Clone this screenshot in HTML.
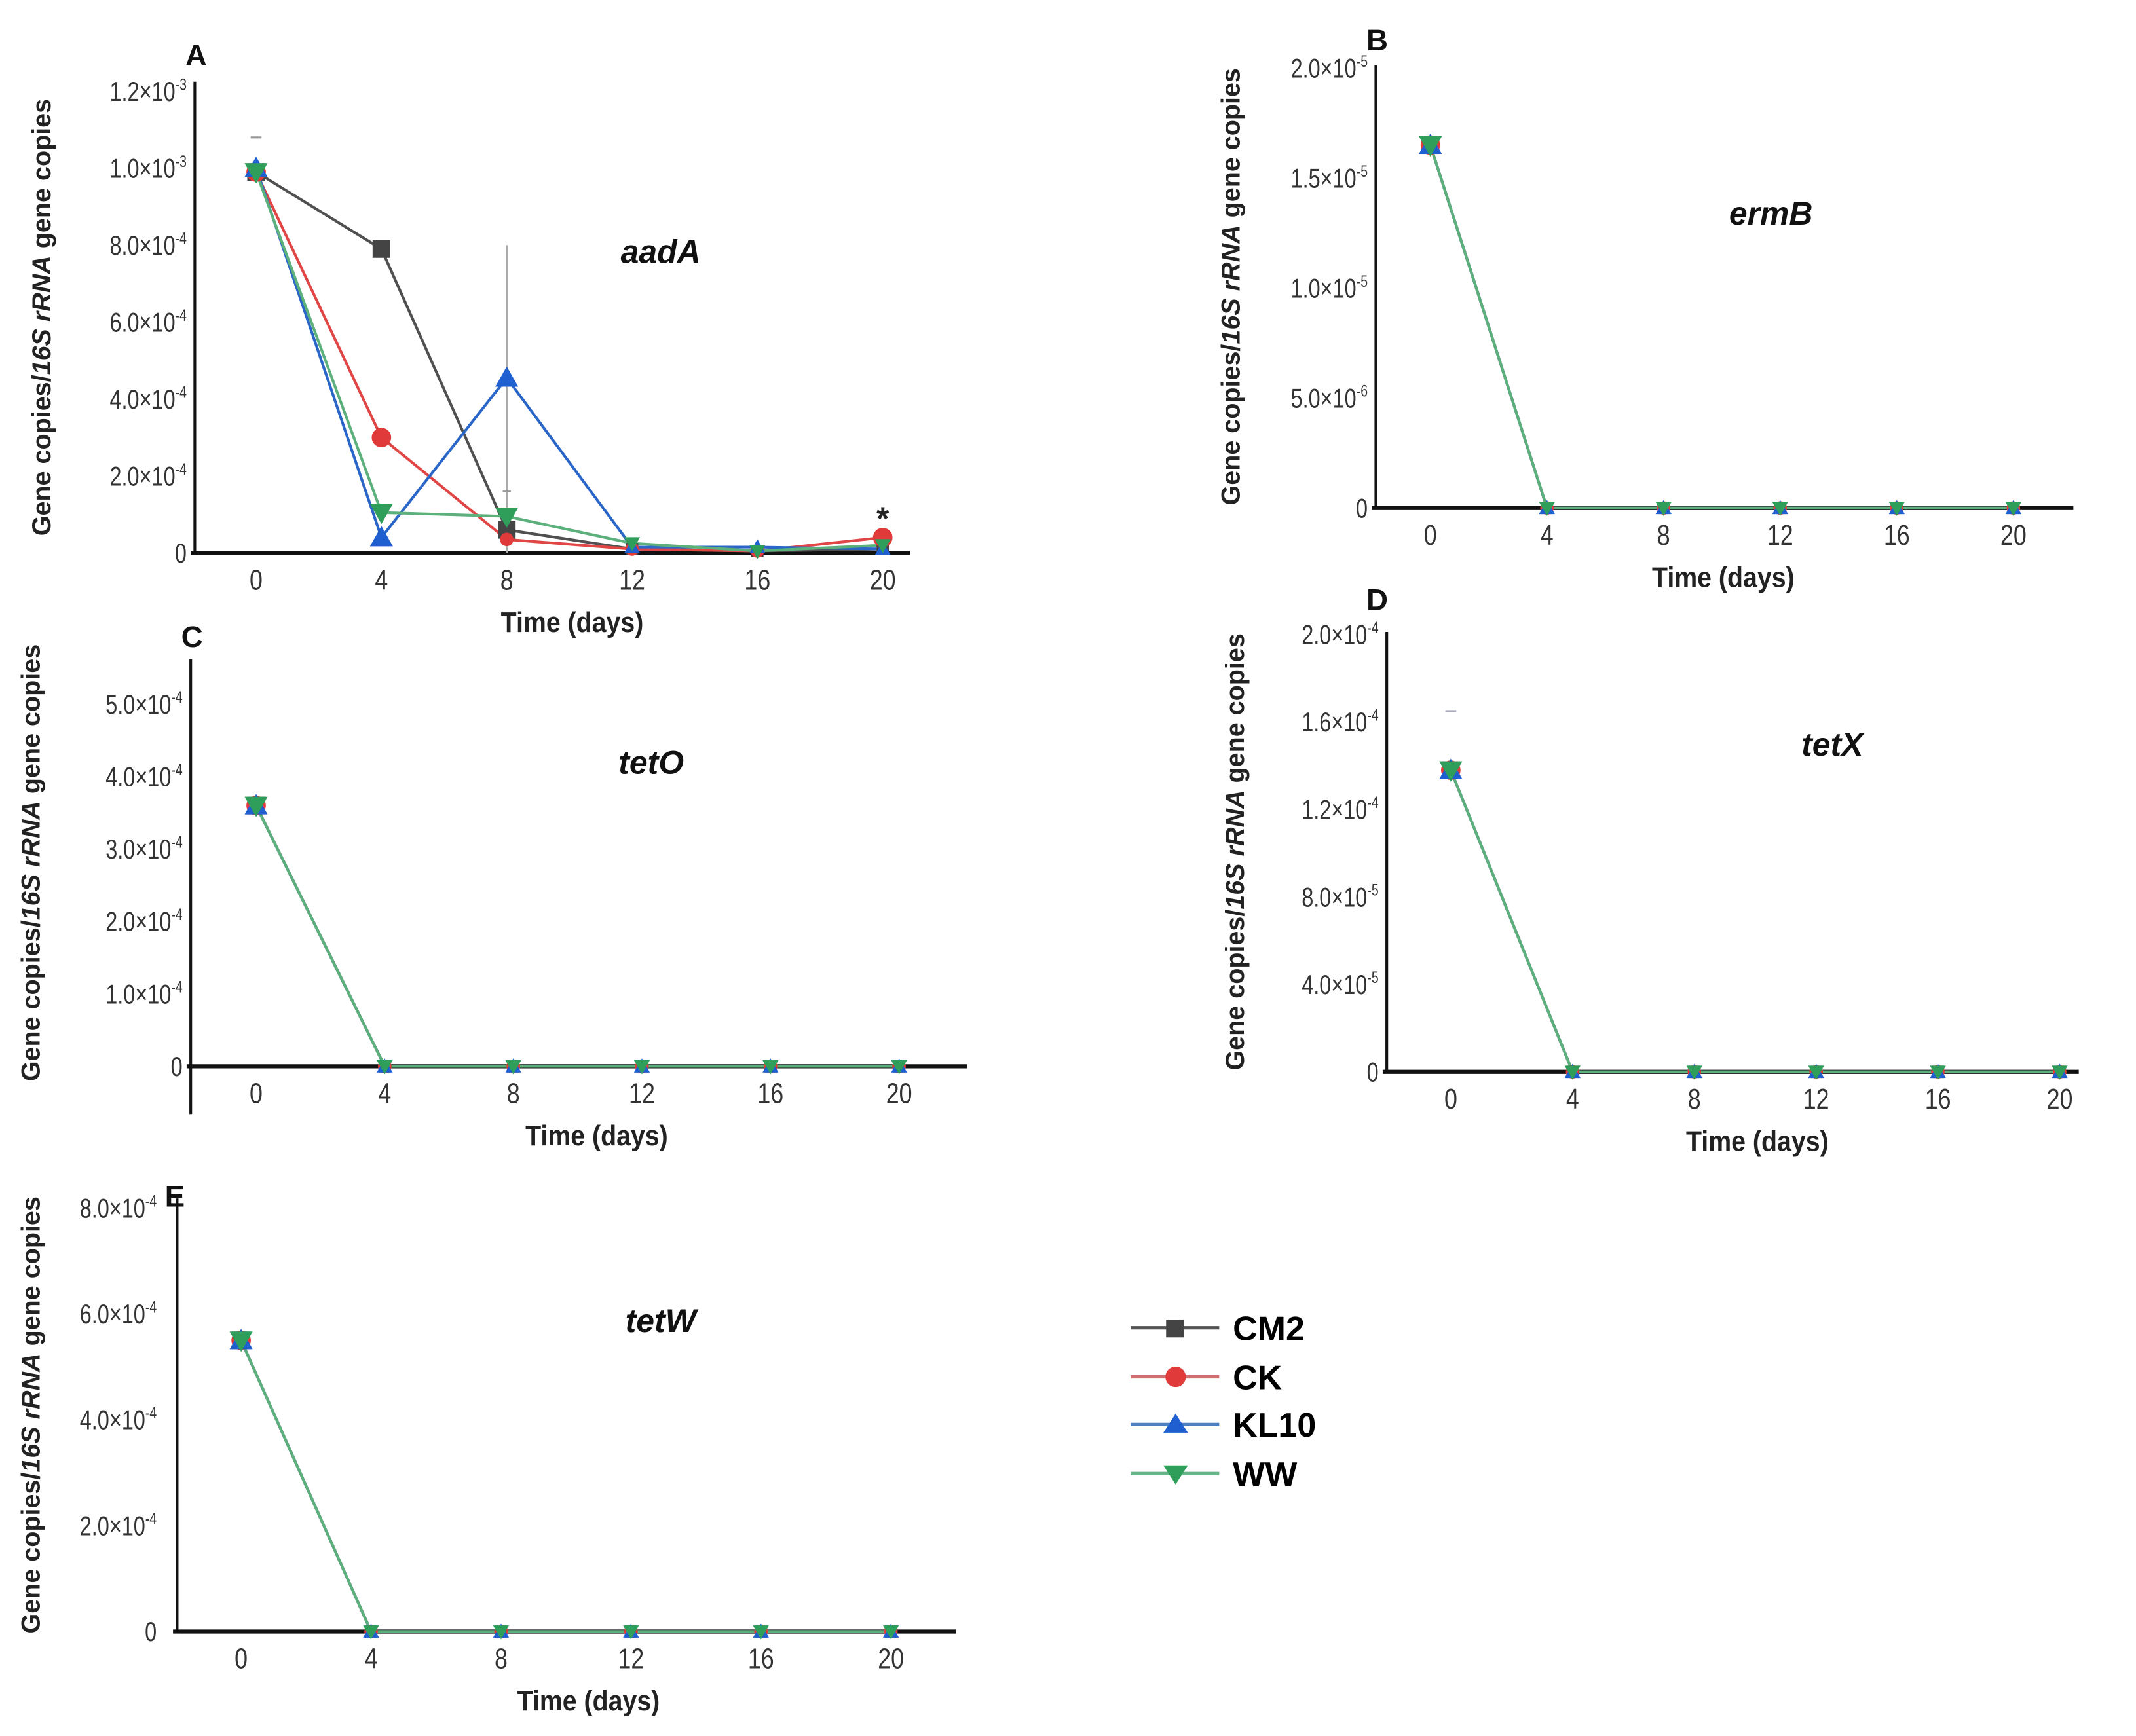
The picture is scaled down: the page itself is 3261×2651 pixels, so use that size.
<!DOCTYPE html>
<html><head><meta charset="utf-8"><style>
html,body{margin:0;padding:0;background:#fff;}
svg{display:block;}
text{font-family:"Liberation Sans",sans-serif;}
</style></head><body>
<svg id="fig" width="3261" height="2651" viewBox="0 0 1568 1274.7" xmlns="http://www.w3.org/2000/svg">
<rect width="1568" height="1274.7" fill="#fff"/>
<g id="legend">
  <g>
    <line x1="830" y1="975" x2="895" y2="975" stroke="#555" stroke-width="2.5"/>
    <rect x="856" y="969" width="13" height="13" fill="#444"/>
    <text x="905" y="984" font-weight="bold" font-size="25">CM2</text>
  </g>
  <g>
    <line x1="830" y1="1011" x2="895" y2="1011" stroke="#d07070" stroke-width="2.5"/>
    <circle cx="863" cy="1011" r="7.5" fill="#e03a3a"/>
    <text x="905" y="1020" font-weight="bold" font-size="25">CK</text>
  </g>
  <g>
    <line x1="830" y1="1046" x2="895" y2="1046" stroke="#4a7fc4" stroke-width="2.5"/>
    <polygon points="863,1038 872,1052 854,1052" fill="#1f5fd0"/>
    <text x="905" y="1055" font-weight="bold" font-size="25">KL10</text>
  </g>
  <g>
    <line x1="830" y1="1082" x2="895" y2="1082" stroke="#6ab48a" stroke-width="2.5"/>
    <polygon points="854,1076 872,1076 863,1090" fill="#2e9e5a"/>
    <text x="905" y="1091" font-weight="bold" font-size="25">WW</text>
  </g>
</g>
</svg>
<script>
const days = [0, 4, 8, 12, 16, 20];
const seriesNames = ['CM2', 'CK', 'KL10', 'WW'];
// Panel A (aadA)
const aadA_CM2 = [0.99e-3, 7.9e-4, 0.6e-4, 0.1e-4, 0.05e-4, 0.1e-4];
const aadA_CK = [0.99e-3, 3.0e-4, 0.35e-4, 0.1e-4, 0.05e-4, 0.4e-4];
const aadA_KL10 = [1.0e-3, 0.4e-4, 4.55e-4, 0.15e-4, 0.15e-4, 0.1e-4];
const aadA_WW = [0.99e-3, 1.05e-4, 0.95e-4, 0.25e-4, 0.05e-4, 0.2e-4];
const aadA_ticks = [0, 2e-4, 4e-4, 6e-4, 8e-4, 1e-3, 1.2e-3];
const aadA_tickLabels = [['0',''],['2.0×10','-4'],['4.0×10','-4'],['6.0×10','-4'],['8.0×10','-4'],['1.0×10','-3'],['1.2×10','-3']];
// Panel B (ermB)
const ermB_values = [1.65e-5, 0, 0, 0, 0, 0];
const ermB_ticks = [0, 5e-6, 1e-5, 1.5e-5, 2e-5];
const ermB_tickLabels = [['0',''],['5.0×10','-6'],['1.0×10','-5'],['1.5×10','-5'],['2.0×10','-5']];
// Panel C (tetO)
const tetO_values = [3.6e-4, 0, 0, 0, 0, 0];
const tetO_ticks = [0, 1e-4, 2e-4, 3e-4, 4e-4, 5e-4];
const tetO_tickLabels = [['0',''],['1.0×10','-4'],['2.0×10','-4'],['3.0×10','-4'],['4.0×10','-4'],['5.0×10','-4']];
// Panel D (tetX)
const tetX_values = [1.38e-4, 0, 0, 0, 0, 0];
const tetX_ticks = [0, 4e-5, 8e-5, 1.2e-4, 1.6e-4, 2e-4];
const tetX_tickLabels = [['0',''],['4.0×10','-5'],['8.0×10','-5'],['1.2×10','-4'],['1.6×10','-4'],['2.0×10','-4']];
// Panel E (tetW)
const tetW_values = [5.5e-4, 0, 0, 0, 0, 0];
const tetW_ticks = [0, 2e-4, 4e-4, 6e-4, 8e-4];
const tetW_tickLabels = [['0',''],['2.0×10','-4'],['4.0×10','-4'],['6.0×10','-4'],['8.0×10','-4']];

const NS = 'http://www.w3.org/2000/svg';
const svg = document.getElementById('fig');
const colors = {CM2:'#505050', CK:'#e04646', KL10:'#2a66c8', WW:'#5cb07c'};
const mcolors = {CM2:'#444', CK:'#e03a3a', KL10:'#1f5fd0', WW:'#2e9e5a'};
function mk(tag, attrs, parent) {
  const e = document.createElementNS(NS, tag);
  for (const k in attrs) e.setAttribute(k, attrs[k]);
  (parent || svg).appendChild(e);
  return e;
}
function marker(g, name, x, y, s) {
  let m;
  if (name === 'CM2') m = mk('rect', {x:x-s, y:y-s, width:2*s, height:2*s, fill:mcolors[name]}, g);
  else if (name === 'CK') m = mk('circle', {cx:x, cy:y, r:s*1.1, fill:mcolors[name]}, g);
  else if (name === 'KL10') m = mk('polygon', {points:`${x},${y-s*1.3} ${x+s*1.3},${y+s} ${x-s*1.3},${y+s}`, fill:mcolors[name]}, g);
  else m = mk('polygon', {points:`${x-s*1.3},${y-s} ${x+s*1.3},${y-s} ${x},${y+s*1.3}`, fill:mcolors[name]}, g);
  
  
}
function panel(p) {
  const g = mk('g', {});
  
  
  const tmax = p.ticks[p.ticks.length - 1];
  const ys = v => p.y0 - (v / tmax) * (p.y0 - p.yTop);
  const xs = d => p.x0 + (d / 20) * (p.x20 - p.x0);
  const gap = p.labelGap || 6;
  const ya = mk('line', {x1:p.ax, y1:p.axTop, x2:p.ax, y2:p.axBot || p.y0, stroke:'#111', 'stroke-width':2}, g);
  
  
  const xa = mk('line', {x1:p.ax - 3, y1:p.y0, x2:p.axEnd, y2:p.y0, stroke:'#111', 'stroke-width':3}, g);
  
  
  p.ticks.forEach((t, i) => {
    const y = ys(t);
    const tg = mk('g', {transform:`translate(${p.ax - gap},${y + 7}) scale(0.78,1)`}, g);
    const tx = mk('text', {x:0, y:0, 'text-anchor':'end', 'font-size':20, fill:'#333'}, tg);
    
    
    tx.textContent = p.labels[i][0];
    if (p.labels[i][1]) {
      const sp = mk('tspan', {dy:-8, 'font-size':12}, tx);
      sp.textContent = p.labels[i][1];
    }
  });
  days.forEach(d => {
    const tg = mk('g', {transform:`translate(${xs(d)},${p.y0 + 27}) scale(0.82,1)`}, g);
    const tx = mk('text', {x:0, y:0, 'text-anchor':'middle', 'font-size':21, fill:'#333'}, tg);
    
    
    tx.textContent = d;
  });
  const xg = mk('g', {transform:`translate(${p.xTitleX},${p.y0 + 58}) scale(0.9,1)`}, g);
  const xt = mk('text', {x:0, y:0, 'text-anchor':'middle', 'font-size':21, 'font-weight':'bold', fill:'#222'}, xg);
  
  
  xt.textContent = 'Time (days)';
  const cy = (p.axTop + p.y0) / 2;
  const yt = mk('text', {x:0, y:0, transform:`translate(${p.yTitleX},${cy}) rotate(-90)`, 'text-anchor':'middle', 'font-size':19, 'font-weight':'bold', fill:'#222'}, g);
  
  
  const a = mk('tspan', {}, yt); a.textContent = 'Gene copies/';
  const b = mk('tspan', {'font-style':'italic'}, yt); b.textContent = '16S rRNA';
  const c = mk('tspan', {}, yt); c.textContent = ' gene copies';
  const lt = mk('text', {x:p.letterX, y:p.letterY, 'font-size':22, 'font-weight':'bold', fill:'#111'}, g);
  
  
  lt.textContent = p.letter;
  const gt = mk('text', {x:p.geneX, y:p.geneY, 'text-anchor':'middle', 'font-size':24, 'font-weight':'bold', 'font-style':'italic', fill:'#111'}, g);
  
  
  gt.textContent = p.gene;
  if (p.extra) p.extra(g, xs, ys);
  seriesNames.forEach(n => {
    const vals = p.series[n];
    const pl = mk('polyline', {points: vals.map((v, i) => `${xs(days[i])},${ys(v)}`).join(' '), fill:'none', stroke:colors[n], 'stroke-width':2}, g);
    
    
  });
  seriesNames.forEach(n => {
    p.series[n].forEach((v, i) => marker(g, n, xs(days[i]), ys(v), i === 0 || v > 0.03 * tmax ? 6.5 : 4.5));
  });
}
function same(v) { return {CM2:v, CK:v, KL10:v, WW:v}; }

panel({letter:'A', gene:'aadA', letterX:136, letterY:48, geneX:485, geneY:193,
  ax:143, axTop:60, y0:406, yTop:67, x0:188, x20:648, axEnd:668, xTitleX:420, yTitleX:37,
  ticks:aadA_ticks, labels:aadA_tickLabels,
  series:{CM2:aadA_CM2, CK:aadA_CK, KL10:aadA_KL10, WW:aadA_WW},
  extra:(g, xs, ys) => {
    const eb = mk('line', {x1:xs(8), y1:ys(8e-4), x2:xs(8), y2:ys(0), stroke:'#aaa', 'stroke-width':1.3}, g);
    
    
    mk('line', {x1:xs(0)-4, y1:ys(1.08e-3), x2:xs(0)+4, y2:ys(1.08e-3), stroke:'#999', 'stroke-width':1.5}, g);
    mk('line', {x1:xs(8)-3, y1:ys(1.6e-4), x2:xs(8)+3, y2:ys(1.6e-4), stroke:'#999', 'stroke-width':1.2}, g);
    const st = mk('text', {x:xs(20), y:ys(0) - 17, 'text-anchor':'middle', 'font-size':24, 'font-weight':'bold', fill:'#222'}, g);
    
    
    st.textContent = '*';
  }});
panel({letter:'B', gene:'ermB', letterX:1003, letterY:37, geneX:1300, geneY:165,
  ax:1010, axTop:48, y0:373, yTop:50, x0:1050, x20:1478, axEnd:1522, xTitleX:1265, yTitleX:910,
  ticks:ermB_ticks, labels:ermB_tickLabels, series:same(ermB_values)});
panel({letter:'C', gene:'tetO', letterX:133, letterY:475, geneX:478, geneY:568,
  ax:140, axTop:484, axBot:818, y0:783, yTop:517, x0:188, x20:660, axEnd:710, xTitleX:438, yTitleX:29,
  ticks:tetO_ticks, labels:tetO_tickLabels, series:same(tetO_values)});
panel({letter:'D', gene:'tetX', letterX:1003, letterY:448, geneX:1345, geneY:555,
  ax:1018, axTop:464, y0:787, yTop:466, x0:1065, x20:1512, axEnd:1526, xTitleX:1290, yTitleX:913,
  ticks:tetX_ticks, labels:tetX_tickLabels, series:same(tetX_values),
  extra:(g, xs, ys) => { mk('line', {x1:xs(0)-4, y1:ys(1.65e-4), x2:xs(0)+4, y2:ys(1.65e-4), stroke:'#aab', 'stroke-width':1.5}, g); }});
panel({letter:'E', gene:'tetW', letterX:121, letterY:886, geneX:485, geneY:978,
  ax:130, axTop:880, y0:1198, yTop:887, x0:177, x20:654, axEnd:702, xTitleX:432, yTitleX:29, labelGap:15,
  ticks:tetW_ticks, labels:tetW_tickLabels, series:same(tetW_values)});
</script>
</body></html>
